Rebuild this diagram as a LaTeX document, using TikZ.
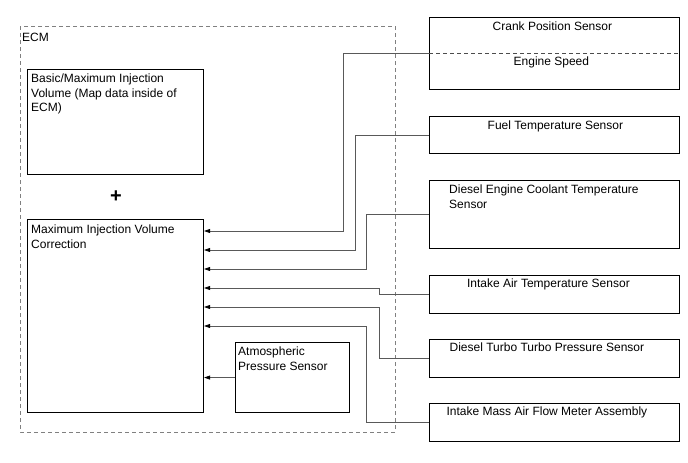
\documentclass[tikz,border=0pt]{standalone}
\usepackage{fontspec}
\setmainfont{Liberation Sans}
\usetikzlibrary{arrows.meta, calc}

\begin{document}
\begin{tikzpicture}[
  x=1pt, y=-1pt,
  every node/.style={font=\fontsize{12}{14.5}\selectfont, inner sep=0pt},
  ecmbox/.style={draw=black, line width=1.1pt, anchor=north west, minimum width=176pt},
  sensbox/.style={draw=black, line width=0.8pt, anchor=north west, minimum width=250pt},
  boxtext/.style={anchor=north west, align=left},
  sig/.style={draw=black!65, line width=0.7pt, -{Triangle[length=6pt, width=4pt, black]}},
]
\useasboundingbox (0,0) rectangle (688,463);

% --- ECM frame ---
\draw[gray, line width=0.8pt, dash pattern=on 4pt off 3pt] (20,26) rectangle (395,432);
\node[anchor=north west] (ecm) at (22,33) {ECM};

% --- Boxes inside the ECM ---
\node[ecmbox, minimum height=105pt] (basic) at (27,69) {};
\node[boxtext] (basictxt) at ($(basic.north west)+(4,5)$) {Basic/Maximum Injection\\Volume (Map data inside of\\ECM)};

\node[font=\fontsize{20}{20}\selectfont\bfseries] (plus) at (116,197) {+};

\node[ecmbox, minimum height=193pt] (corr) at (27,219) {};
\node[boxtext] (corrtxt) at ($(corr.north west)+(4,6)$) {Maximum Injection Volume\\Correction};

\node[ecmbox, minimum width=114pt, minimum height=70pt] (atm) at (235,342) {};
\node[boxtext] (atmtxt) at ($(atm.north west)+(3,5)$) {Atmospheric\\Pressure Sensor};

% --- Sensors (right column) ---
\node[sensbox, minimum height=72pt] (crank) at (429,17) {};
\node[anchor=base] (cranktxt) at ($(crank.north)+(-2,13)$) {Crank Position Sensor};
\draw[black!70, line width=0.7pt, dash pattern=on 4pt off 3pt] (crank.west) -- (crank.east);
\node[anchor=base] (speedtxt) at ($(crank.north)+(-3,48)$) {Engine Speed};

\node[sensbox, minimum height=37pt] (fuel) at (429,116) {};
\node[anchor=base] (fueltxt) at ($(fuel.north)+(1,13)$) {Fuel Temperature Sensor};

\node[sensbox, minimum height=68pt] (ect) at (429,180) {};
\node[boxtext] (ecttxt) at ($(ect.north west)+(20,5)$) {Diesel Engine Coolant Temperature\\Sensor};

\node[sensbox, minimum height=38pt] (iat) at (429,275) {};
\node[anchor=base] (iattxt) at ($(iat.north)+(-6,12)$) {Intake Air Temperature Sensor};

\node[sensbox, minimum height=38pt] (turbo) at (429,339) {};
\node[anchor=base] (turbotxt) at ($(turbo.north)+(-7.5,12)$) {Diesel Turbo Turbo Pressure Sensor};

\node[sensbox, minimum height=38pt] (maf) at (429,403) {};
\node[anchor=base] (maftxt) at ($(maf.north)+(-7.5,12)$) {Intake Mass Air Flow Meter Assembly};

% --- Signal lines into the correction block ---
\foreach \k in {1,...,6}
  \coordinate (in\k) at ($(corr.north east)+(0,-7+19*\k)$);

\draw[sig] (crank.west) -- ++(-86,0) |- (in1);
\draw[sig] (fuel.west) -- ++(-74,0) |- (in2);
\draw[sig] (ect.west) -- ++(-63,0) |- (in3);
\draw[sig] (iat.west) -- ++(-50,0) |- (in4);
\draw[sig] (turbo.west) -- ++(-50,0) |- (in5);
\draw[sig] (maf.west) -- ++(-63,0) |- (in6);
\draw[sig] (atm.west) -- (atm.west -| corr.east);

\end{tikzpicture}
\end{document}
